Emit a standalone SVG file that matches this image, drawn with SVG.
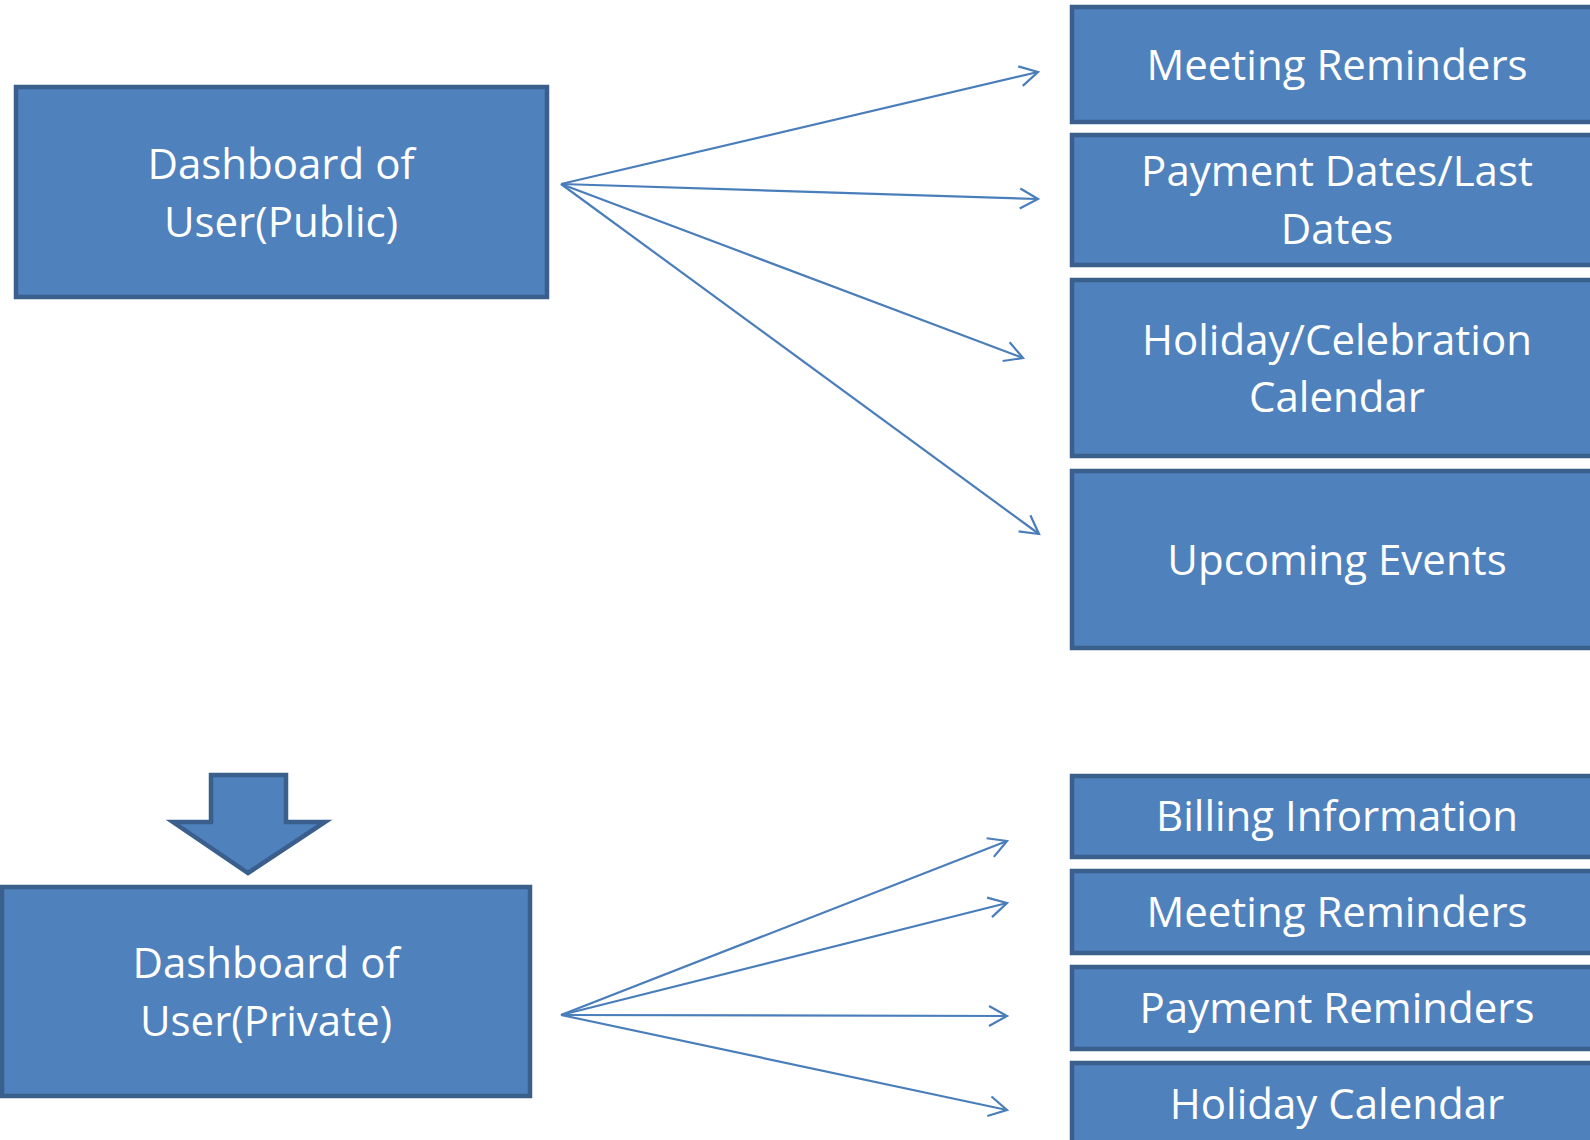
<svg xmlns="http://www.w3.org/2000/svg" width="1590" height="1140" viewBox="0 0 1590 1140">
<style>
.box{fill:#4F81BD;stroke:#3A5F8C;stroke-width:4.5;}
.lbl{fill:#FFFFFF;font-family:"Open Sans","Noto Sans","Liberation Sans",sans-serif;font-size:42px;text-anchor:middle;}
.conn{stroke:#4A7EBB;stroke-width:2.2;fill:none;marker-end:url(#ah);}
</style>
<defs>
<marker id="ah" markerUnits="userSpaceOnUse" markerWidth="24" markerHeight="26" refX="19" refY="11" orient="auto" overflow="visible">
<path d="M1,1 L19,11 L1,21" fill="none" stroke="#4A7EBB" stroke-width="2.2"/>
</marker>
</defs>
<rect width="1590" height="1140" fill="#FFFFFF"/>

<g id="public">
<rect class="box" x="16" y="87" width="531" height="210"/>
<text class="lbl" x="281" y="179">Dashboard of</text>
<text class="lbl" x="281" y="237">User(Public)</text>
</g>

<g id="pub-meeting">
<rect class="box" x="1072" y="7" width="530" height="115"/>
<text class="lbl" x="1337" y="80">Meeting Reminders</text>
</g>
<g id="pub-payment">
<rect class="box" x="1072" y="135" width="530" height="130"/>
<text class="lbl" x="1337" y="186">Payment Dates/Last</text>
<text class="lbl" x="1337" y="244">Dates</text>
</g>
<g id="pub-holiday">
<rect class="box" x="1072" y="280" width="530" height="176"/>
<text class="lbl" x="1337" y="355">Holiday/Celebration</text>
<text class="lbl" x="1337" y="412">Calendar</text>
</g>
<g id="pub-events">
<rect class="box" x="1072" y="471" width="530" height="177"/>
<text class="lbl" x="1337" y="575">Upcoming Events</text>
</g>

<g id="down-arrow">
<path class="box" d="M211,775 L286,775 L286,822 L325,822 L248,873 L173,822 L211,822 Z" stroke-linejoin="miter"/>
</g>

<g id="private">
<rect class="box" x="2" y="887" width="528" height="209"/>
<text class="lbl" x="266" y="978">Dashboard of</text>
<text class="lbl" x="266" y="1036">User(Private)</text>
</g>

<g id="priv-billing">
<rect class="box" x="1072" y="776" width="530" height="81"/>
<text class="lbl" x="1337" y="831">Billing Information</text>
</g>
<g id="priv-meeting">
<rect class="box" x="1072" y="871" width="530" height="82"/>
<text class="lbl" x="1337" y="927">Meeting Reminders</text>
</g>
<g id="priv-payment">
<rect class="box" x="1072" y="967" width="530" height="82"/>
<text class="lbl" x="1337" y="1023">Payment Reminders</text>
</g>
<g id="priv-holiday">
<rect class="box" x="1072" y="1063" width="530" height="90"/>
<text class="lbl" x="1337" y="1119">Holiday Calendar</text>
</g>

<g id="connectors">
<line class="conn" x1="561" y1="184" x2="1038" y2="72"/>
<line class="conn" x1="561" y1="184" x2="1038" y2="199"/>
<line class="conn" x1="561" y1="184" x2="1023" y2="358"/>
<line class="conn" x1="561" y1="184" x2="1039" y2="534"/>
<line class="conn" x1="561" y1="1015" x2="1007" y2="841"/>
<line class="conn" x1="561" y1="1015" x2="1007" y2="903"/>
<line class="conn" x1="561" y1="1015" x2="1007" y2="1016"/>
<line class="conn" x1="561" y1="1015" x2="1007" y2="1110"/>
</g>
</svg>
